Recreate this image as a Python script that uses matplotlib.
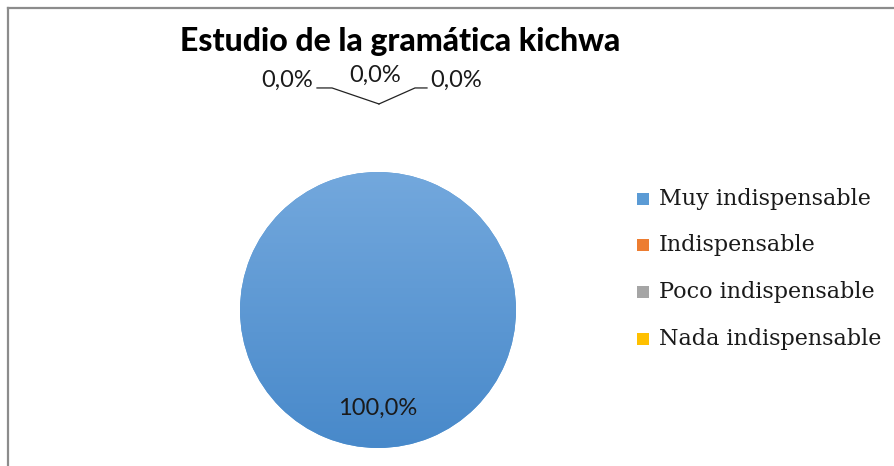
import numpy as np
import matplotlib
matplotlib.use("Agg")
import matplotlib.pyplot as plt
from matplotlib.patches import Rectangle
from matplotlib.lines import Line2D
from matplotlib.colors import LinearSegmentedColormap

title = "Estudio de la gramática kichwa"
categories = ["Muy indispensable", "Indispensable", "Poco indispensable", "Nada indispensable"]
values = [100.0, 0.0, 0.0, 0.0]
colors = ["#5b9bd5", "#ed7d31", "#a5a5a5", "#ffc000"]

W, H = 895, 466
fig = plt.figure(figsize=(W / 100, H / 100), dpi=100)
fig.patch.set_facecolor("white")

# border (top and left visible)
fig.add_artist(Line2D([8 / W, 8 / W], [0, 1 - 8 / H], transform=fig.transFigure, color="#8c8c8c", lw=1.6))
fig.add_artist(Line2D([8 / W, 1], [1 - 8 / H, 1 - 8 / H], transform=fig.transFigure, color="#8c8c8c", lw=1.6))

cx, cy, R = 378, 310, 138
ax = fig.add_axes([(cx - R) / W, (H - cy - R) / H, 2 * R / W, 2 * R / H])

wedges, _ = ax.pie(values, colors=colors, startangle=90, counterclock=False,
                   radius=1.0, wedgeprops=dict(linewidth=0))
ax.set_xlim(-1, 1)
ax.set_ylim(-1, 1)
ax.set_aspect("equal")
ax.axis("off")

# gradient fill for the main wedge
cmap = LinearSegmentedColormap.from_list("g", ["#4889ca", "#73a8dd"])
grad = np.linspace(0, 1, 256).reshape(-1, 1)
for w, v in zip(wedges, values):
    if v > 0:
        im = ax.imshow(grad, extent=[-1, 1, -1, 1], origin="lower", cmap=cmap, aspect="auto", zorder=2)
        im.set_clip_path(w)

# labels
label_font = dict(family=["Lato", "DejaVu Sans"], fontsize=17, color="#1a1a1a")
zero_pos = [(-0.66, 1.665), (-0.02, 1.70), (0.565, 1.665)]
zi = 0
for w, v in zip(wedges, values):
    txt = f"{v:.1f}%".replace(".", ",")
    if v > 0:
        mid = np.deg2rad((w.theta1 + w.theta2) / 2)
        ax.text(0.71 * np.cos(mid), 0.71 * np.sin(mid), txt, ha="center", va="center", zorder=5, **label_font)
    else:
        x, y = zero_pos[zi]
        ax.text(x, y, txt, ha="center", va="center", clip_on=False, **label_font)
        zi += 1

# leader lines
ax.plot([-0.442, -0.333, 0.007], [1.609, 1.609, 1.493], color="#222222", lw=0.9, clip_on=False)
ax.plot([0.007, 0.268, 0.355], [1.493, 1.609, 1.609], color="#222222", lw=0.9, clip_on=False)

# title
fig.text(400 / W, 1 - 42 / H, title, ha="center", va="center", fontsize=23,
         family=["Lato", "DejaVu Sans"], fontweight=900, color="black")

# legend
ys = [199, 245, 292, 339]
for cat, col, yy in zip(categories, colors, ys):
    fig.add_artist(Rectangle((637 / W, 1 - (yy + 6) / H), 12 / W, 12 / H, transform=fig.transFigure,
                             facecolor=col, edgecolor="none"))
    fig.text(659 / W, 1 - yy / H, cat, ha="left", va="center", fontsize=16,
             family=["DejaVu Serif"], color="#1a1a1a")

fig.savefig("out.png", dpi=100)
